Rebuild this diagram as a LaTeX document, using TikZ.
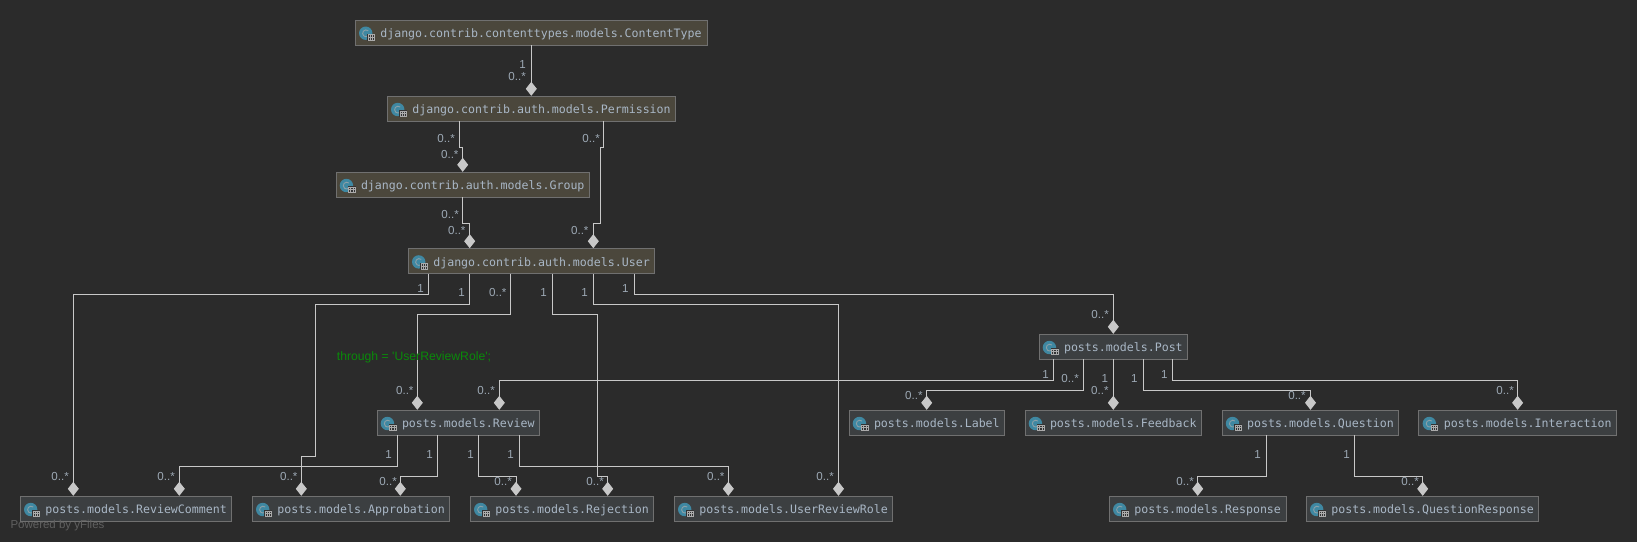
\documentclass[tikz,border=0pt]{standalone}
\usepackage{fontspec}
\setmainfont{Liberation Sans}[Ligatures=NoCommon]
\setmonofont{DejaVu Sans Mono}[Ligatures=NoCommon]
\newfontfamily\plainsans{Liberation Sans}
\usetikzlibrary{arrows.meta}
\definecolor{bgc}{HTML}{2B2B2B}
\definecolor{djfill}{HTML}{4B473C}
\definecolor{postfill}{HTML}{3C3F41}
\definecolor{boxline}{HTML}{707070}
\definecolor{wire}{HTML}{C8C8C8}
\definecolor{txt}{HTML}{A9B7C6}
\definecolor{labc}{HTML}{9DA9B5}
\definecolor{icon}{HTML}{3F88A2}
\definecolor{gridc}{HTML}{ABABAB}
\definecolor{greentxt}{HTML}{0A8A0A}
\definecolor{powered}{HTML}{606060}
\newcounter{labn}
\tikzset{
  classbox/.style={draw=boxline,line width=1pt,fill=#1,inner sep=0pt,outer sep=0pt,
    minimum height=25pt,anchor=north west,text=txt,font=\ttfamily\fontsize{11.6}{14}\selectfont},
  conn/.style={draw=wire,line width=1pt,-{Diamond[length=14pt,width=11pt,fill=wire]},shorten >=0.5pt},
  mult/.style={anchor=east,inner sep=0pt,text=labc,font=\fontsize{11.6}{14}\selectfont},
  classicon/.pic={
    \fill[icon] (10.4,13.2) circle (6.7);
    \draw[gridc!70!icon,line width=0.9pt] (12.9,10.7) arc (-50:-300:3.4);
    \fill[bgc!60!postfill] (11.9,13.9) rectangle (19.5,20.8);
    \draw[gridc,line width=0.6pt] (12.7,14.7) rectangle (18.8,20.1);
    \draw[gridc,line width=0.5pt] (12.7,17.4) -- (18.8,17.4) (14.7,14.7) -- (14.7,20.1) (16.8,14.7) -- (16.8,20.1);
  }
}
\newcommand{\cls}[6]{%
  \pgfmathsetlengthmacro\clsw{#4-#2}%
  \node[classbox=#5] (#1) at (#2,#3) {\makebox[\clsw][l]{\hspace{25pt}\raisebox{-5.1pt}[0pt][0pt]{#6}}};
  \pic at (#2,#3) {classicon};
}
\newcommand{\lab}[3]{%
  \stepcounter{labn}%
  \node[mult] (lab\thelabn) at (#1,#2) {#3};
}
\begin{document}
\begin{tikzpicture}[x=1pt,y=-1pt]
\useasboundingbox (0,0) rectangle (1637,542);
\fill[bgc] (0,0) rectangle (1637,542);

\cls{ct}{355.3}{20}{707}{djfill}{django.contrib.contenttypes.models.ContentType}
\cls{perm}{387.3}{96.3}{675.7}{djfill}{django.contrib.auth.models.Permission}
\cls{grp}{336}{172.3}{589.3}{djfill}{django.contrib.auth.models.Group}
\cls{usr}{408.3}{248.7}{654.7}{djfill}{django.contrib.auth.models.User}
\cls{post}{1039}{334.3}{1187.3}{postfill}{posts.models.Post}
\cls{rev}{377}{410.3}{539.3}{postfill}{posts.models.Review}
\cls{lbl}{849}{410.3}{1004.7}{postfill}{posts.models.Label}
\cls{fb}{1025}{410.3}{1201.5}{postfill}{posts.models.Feedback}
\cls{qst}{1222.1}{410.3}{1398.6}{postfill}{posts.models.Question}
\cls{itr}{1418.9}{410.3}{1616.7}{postfill}{posts.models.Interaction}
\cls{rc}{20.3}{496.3}{231.7}{postfill}{posts.models.ReviewComment}
\cls{app}{252.3}{496.3}{449.7}{postfill}{posts.models.Approbation}
\cls{rej}{470.3}{496.3}{653.7}{postfill}{posts.models.Rejection}
\cls{urr}{674.3}{496.3}{892.3}{postfill}{posts.models.UserReviewRole}
\cls{rsp}{1109.3}{496.3}{1286}{postfill}{posts.models.Response}
\cls{qr}{1306.3}{496.3}{1538.7}{postfill}{posts.models.QuestionResponse}

% connectors
\draw[conn] (531.3,0 |- ct.south) -- (531.3,0 |- perm.north);
\draw[conn] (459.3,0 |- perm.south) |- (462.7,147.3) -- (462.7,0 |- grp.north);
\draw[conn] (603.7,0 |- perm.south) |- (600.5,147.3) |- (593.3,223.3) -- (593.3,0 |- usr.north);
\draw[conn] (462.7,0 |- grp.south) |- (469.7,223.3) -- (469.7,0 |- usr.north);

\draw[conn] (428.3,0 |- usr.south) |- (73.3,294.3) -- (73.3,0 |- rc.north);
\draw[conn] (469.7,0 |- usr.south) |- (315.5,304.3) |- (301.3,456.3) -- (301.3,0 |- app.north);
\draw[conn] (510.7,0 |- usr.south) |- (417.3,314.3) -- (417.3,0 |- rev.north);
\draw[conn] (552.3,0 |- usr.south) |- (597.5,314.3) |- (607.7,476.3) -- (607.7,0 |- rej.north);
\draw[conn] (593.3,0 |- usr.south) |- (838.5,304.3) -- (838.5,0 |- urr.north);
\draw[conn] (634.3,0 |- usr.south) |- (1113.3,294.3) -- (1113.3,0 |- post.north);

\draw[conn] (1053.7,0 |- post.south) |- (499.3,380.2) -- (499.3,0 |- rev.north);
\draw[conn] (1083.3,0 |- post.south) |- (926.7,390) -- (926.7,0 |- lbl.north);
\draw[conn] (1113.3,0 |- post.south) -- (1113.3,0 |- fb.north);
\draw[conn] (1143.5,0 |- post.south) |- (1310.5,390) -- (1310.5,0 |- qst.north);
\draw[conn] (1172.7,0 |- post.south) |- (1517.6,380.2) -- (1517.6,0 |- itr.north);

\draw[conn] (397.3,0 |- rev.south) |- (179.3,466.3) -- (179.3,0 |- rc.north);
\draw[conn] (437.7,0 |- rev.south) |- (400.3,476.3) -- (400.3,0 |- app.north);
\draw[conn] (478.3,0 |- rev.south) |- (516,476.3) -- (516,0 |- rej.north);
\draw[conn] (519.3,0 |- rev.south) |- (728.3,466.3) -- (728.3,0 |- urr.north);

\draw[conn] (1266.3,0 |- qst.south) |- (1197.7,476.3) -- (1197.7,0 |- rsp.north);
\draw[conn] (1354.3,0 |- qst.south) |- (1422.7,476.3) -- (1422.7,0 |- qr.north);

% multiplicities
\lab{526}{64.3}{1}
\lab{526}{76.7}{0..*}
\lab{455}{138.3}{0..*}
\lab{458.7}{154.3}{0..*}
\lab{600}{138.3}{0..*}
\lab{588.7}{230.3}{0..*}
\lab{459}{214.3}{0..*}
\lab{465.7}{230.3}{0..*}

\lab{424}{288.7}{1}
\lab{69}{476.7}{0..*}
\lab{465}{292.7}{1}
\lab{297.7}{476.7}{0..*}
\lab{506.7}{292.7}{0..*}
\lab{413.7}{390.7}{0..*}
\lab{547}{292.7}{1}
\lab{604}{481.7}{0..*}
\lab{588}{292.7}{1}
\lab{834}{476.7}{0..*}
\lab{628.7}{288.7}{1}
\lab{1109}{314.3}{0..*}

\lab{1049}{374.7}{1}
\lab{495}{390.7}{0..*}
\lab{1079}{378.3}{0..*}
\lab{922.7}{395}{0..*}
\lab{1108.3}{378.3}{1}
\lab{1108.7}{390.7}{0..*}
\lab{1137.7}{378.3}{1}
\lab{1305.9}{395.7}{0..*}
\lab{1167.7}{374.7}{1}
\lab{1514}{390.7}{0..*}

\lab{392}{454.3}{1}
\lab{175}{476.7}{0..*}
\lab{433}{454.3}{1}
\lab{397}{481.7}{0..*}
\lab{474}{454.3}{1}
\lab{512}{481.7}{0..*}
\lab{514}{454.3}{1}
\lab{724.7}{476.7}{0..*}

\lab{1261}{454.3}{1}
\lab{1194}{481.7}{0..*}
\lab{1350}{454.3}{1}
\lab{1419}{481.7}{0..*}

\node[anchor=west,inner sep=0pt,text=greentxt,font=\plainsans\fontsize{12.2}{14}\selectfont] (thr) at (336.7,357.7) {through = 'UserReviewRole';};
\node[anchor=west,inner sep=0pt,text=powered,font=\plainsans\fontsize{11.5}{14}\selectfont] (pow) at (10.3,525.7) {Powered by yFiles};
\end{tikzpicture}
\end{document}
